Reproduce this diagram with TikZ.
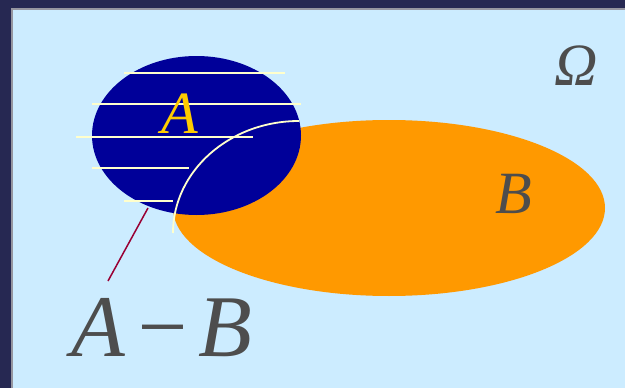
\documentclass[tikz,border=0pt]{standalone}
\usepackage{fontspec}
\setmainfont{Liberation Serif}
\usepackage{tikz}
\usetikzlibrary{positioning}
\definecolor{framecol}{RGB}{38,40,82}
\definecolor{edgecol}{RGB}{150,150,160}
\definecolor{skycol}{RGB}{204,236,255}
\definecolor{setAcol}{RGB}{0,0,153}
\definecolor{setBcol}{RGB}{255,153,0}
\definecolor{labAcol}{RGB}{255,204,0}
\definecolor{inkcol}{RGB}{77,77,77}
\definecolor{leadcol}{RGB}{153,0,51}
\definecolor{hatchcol}{RGB}{255,255,204}

\begin{document}
\begin{tikzpicture}[
  x=1pt, y=-1pt,
  lab/.style={inner sep=0pt, anchor=base, text=inkcol,
              font=\fontsize{60}{60}\selectfont\itshape},
  hatch/.style={hatchcol, line width=1.8pt},
  lead/.style={leadcol, line width=1.5pt},
]
\useasboundingbox (0,0) rectangle (625,388);
% frame and background
\fill[framecol] (0,0) rectangle (625,388);
\fill[edgecol] (11,8) rectangle (625,388);
\fill[skycol] (13,10) rectangle (625,388);

% the two sets
\fill[setBcol] (389,208) ellipse[x radius=216, y radius=88];
\fill[setAcol] (196.5,135.5) ellipse[x radius=104.5, y radius=79.5];

% hatching of A-B
\foreach \yy/\xa/\xb in {73/124/285, 104/92/301, 137/76/253, 168/92/189, 201/124/173}
  \draw[hatch] (\xa,\yy) -- (\xb,\yy);
\draw[hatch] (299,121) arc[start angle=270, end angle=180, x radius=126, y radius=112];

% labels
\node[lab, text=labAcol] (labA) at (180,133) {A};
\node[lab] (labB) at (514,213) {B};
\node[lab] (omega) at (576,85) {Ω};
\node[lab, font=\fontsize{88}{88}\selectfont\itshape] (diff) at (162,356)
  {A\hspace{0.08em}−\hspace{0.08em}B};

\coordinate (tip) at (148,208);
\coordinate (foot) at (108,281);
\draw[lead] (tip) -- (foot);
\end{tikzpicture}
\end{document}
